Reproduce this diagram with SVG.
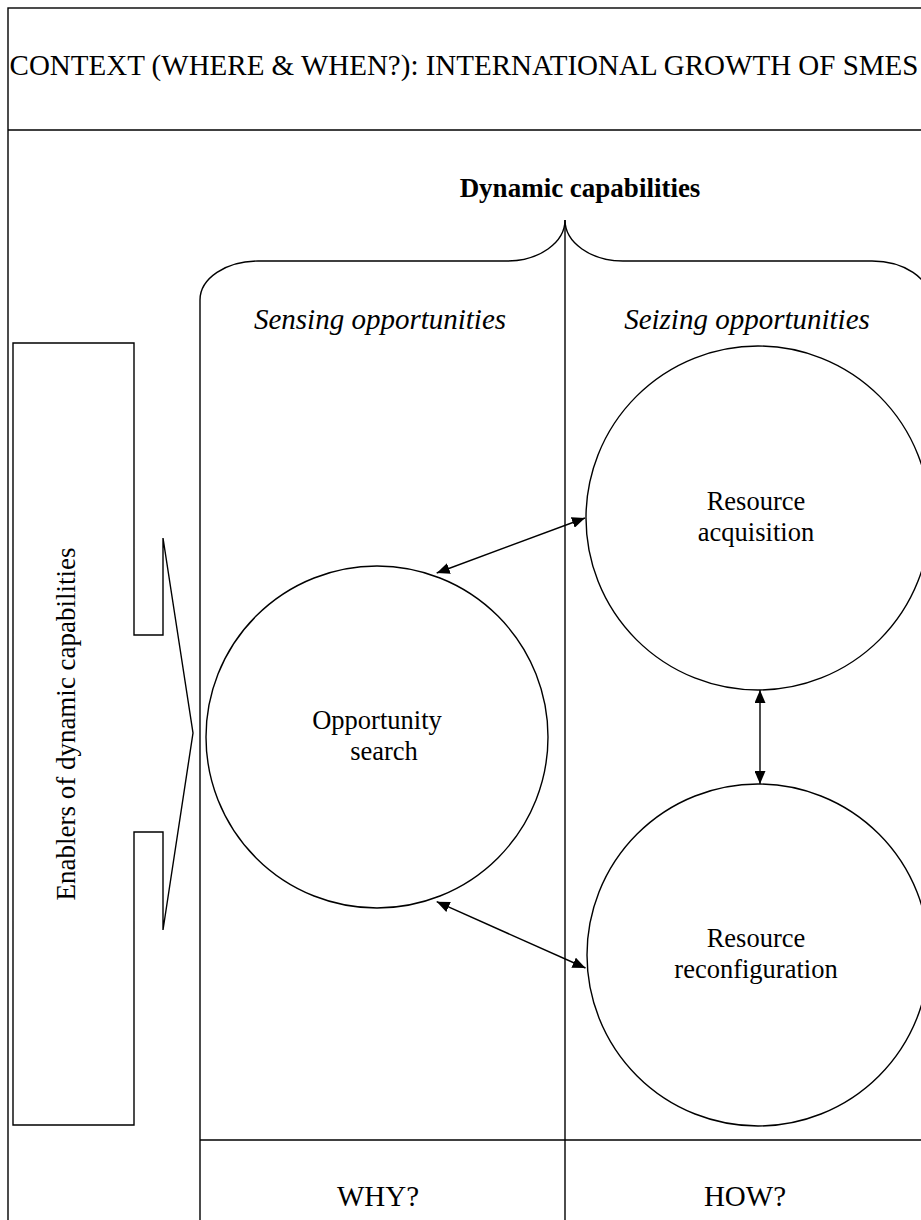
<svg xmlns="http://www.w3.org/2000/svg" width="921" height="1220" viewBox="0 0 921 1220">
<style>
.ln{fill:none;stroke:#000;stroke-width:1.4}
.t{font-family:'Liberation Serif','Times New Roman','DejaVu Serif',serif;fill:#000}
.lab{font-size:26.5px;text-anchor:middle}
.col{font-size:29px;text-anchor:middle}
.ar{fill:none;stroke:#000;stroke-width:1.4;marker-start:url(#ah);marker-end:url(#ah)}
</style>
<defs>
<marker id="ah" markerUnits="userSpaceOnUse" markerWidth="14" markerHeight="11" refX="13" refY="5.5" orient="auto-start-reverse" viewBox="0 0 14 11">
<path d="M0,0 L13,5.5 L0,11 z" fill="#000"/>
</marker>
</defs>
<rect x="0" y="0" width="921" height="1220" fill="#fff"/>
<g id="context">
<rect class="ln" x="8" y="8" width="960" height="1260" stroke-width="1.6"/>
<path class="ln" d="M8,130 L921,130" stroke-width="1.6"/>
<text class="t" font-family="Liberation Serif, serif" x="464" y="75" font-size="29" text-anchor="middle">CONTEXT (WHERE &amp; WHEN?): INTERNATIONAL GROWTH OF SMES</text>
</g>
<g id="dynamic-capabilities">
<text class="t" font-family="Liberation Serif, serif" x="580" y="197" font-size="27" font-weight="bold" text-anchor="middle">Dynamic capabilities</text>
<path class="ln" d="M200,1230 L200,300 C200,278.5 226,261 258,261 L507,261 C539,261 565,242.6 565,220 C565,242.6 591,261 623,261 L872,261 C904,261 930,278.5 930,300 L930,1230"/>
<path class="ln" d="M565,220 L565,1230"/>
<path class="ln" d="M200,1140 L930,1140"/>
</g>
<g id="sensing">
<text class="t col" font-family="Liberation Serif, serif" x="380" y="329" font-style="italic">Sensing opportunities</text>
</g>
<g id="seizing">
<text class="t col" font-family="Liberation Serif, serif" x="747" y="329" font-style="italic">Seizing opportunities</text>
</g>
<g id="enablers">
<polygon class="ln" points="13,343 134,343 134,635 163,635 163,538 193,733 163,930 163,832 134,832 134,1125 13,1125"/>
<text class="t" font-family="Liberation Serif, serif" transform="translate(75,724) rotate(-90)" font-size="27" text-anchor="middle">Enablers of dynamic capabilities</text>
</g>
<g id="opportunity-search">
<circle class="ln" cx="377" cy="737" r="171"/>
<text class="t lab" font-family="Liberation Serif, serif" x="377" y="729">Opportunity</text>
<text class="t lab" font-family="Liberation Serif, serif" x="384" y="760">search</text>
</g>
<g id="resource-acquisition">
<circle class="ln" cx="758" cy="518" r="172"/>
<text class="t lab" font-family="Liberation Serif, serif" x="756" y="510">Resource</text>
<text class="t lab" font-family="Liberation Serif, serif" x="756" y="541">acquisition</text>
</g>
<g id="resource-reconfiguration">
<circle class="ln" cx="758" cy="955" r="171"/>
<text class="t lab" font-family="Liberation Serif, serif" x="756" y="947">Resource</text>
<text class="t lab" font-family="Liberation Serif, serif" x="756" y="978">reconfiguration</text>
</g>
<g id="why">
<text class="t col" font-family="Liberation Serif, serif" x="378" y="1206">WHY?</text>
</g>
<g id="how">
<text class="t col" font-family="Liberation Serif, serif" x="745" y="1206">HOW?</text>
</g>
<g id="connectors">
<path class="ar" d="M436.7,573 L585,518"/>
<path class="ar" d="M436.7,901.7 L585.5,968"/>
<path class="ar" d="M760,690 L760,784"/>
</g>
</svg>
